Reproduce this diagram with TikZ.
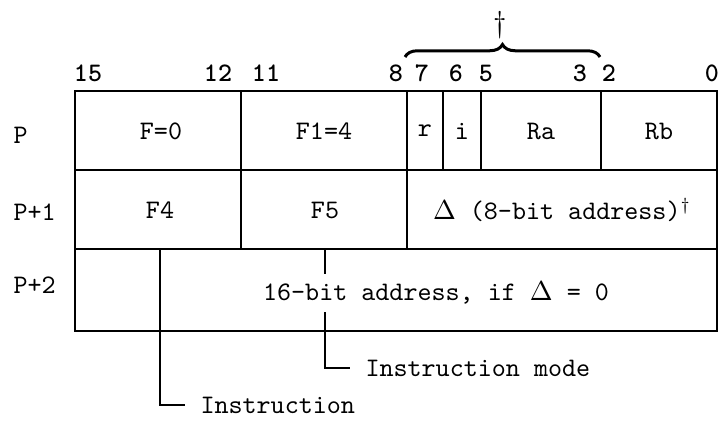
\documentclass[tikz,border=0pt]{standalone}
\usepackage{fontspec}
\usetikzlibrary{decorations.pathreplacing}
\tikzset{
  wordline/.style={line width=1.1pt},
  lbl/.style={font=\fontsize{10.7}{13}\ttfamily, inner sep=0pt},
  bitno/.style={lbl, font=\fontsize{10.7}{13}\ttfamily\bfseries},
  cellrow/.style={lbl, minimum height=31.6pt},
  leader/.style={line width=1.1pt, shorten >=6pt},
}
\begin{document}
\begin{tikzpicture}[x=0.4pt,y=-0.4pt]
\useasboundingbox (0,0) rectangle (718,420);
% bit numbers and brace
\foreach \x/\b in {88/15, 218/12, 266/11, 396/8, 422/7, 456/6, 486/5, 580/3, 609/2, 712/0}
  \node[bitno] (bit\b) at (\x,73) {\b};
\draw[line width=1.2pt, decorate, decoration={brace, amplitude=5pt}] (405,57) -- (600,57);
\node[lbl] (dag) at (500,25) {\large$\dagger$};
% row labels
\node[lbl, anchor=west] (rowP) at (13,135) {P};
\node[lbl, anchor=west] (rowP1) at (13,212) {P+1};
\node[lbl, anchor=west] (rowP2) at (13,285) {P+2};
% first word
\foreach \x/\t [count=\i] in {161/F=0, 324/F1=4, 425/r, 462/i, 541/Ra, 659/Rb}
  \node[lbl] (w\i) at (\x,131) {\t};
% second word
\node[cellrow] (f4) at (160,210) {F4};
\node[cellrow] (f5) at (325,210) {F5};
\node[lbl] (delta) at (562,210) {$\Delta$ (8-bit address)$^\dagger$};
% leaders, under the third word text
\node[lbl, anchor=west] (instr) at (200,405) {Instruction};
\node[lbl, anchor=west] (mode) at (365,368) {Instruction mode};
\draw[leader] (f4.south) |- (instr.west);
\draw[leader] (f5.south) |- (mode.west);
% grid
\draw[wordline] (75,91) rectangle (717,331);
\draw[wordline] (75,170) -- (717,170) (75,249) -- (717,249);
\foreach \x in {241,407} \draw[wordline] (\x,91) -- (\x,249);
\foreach \x in {443,481,601} \draw[wordline] (\x,91) -- (\x,170);
% third word
\node[lbl, fill=white, minimum height=15pt, inner xsep=2pt] (addr) at (436,293) {16-bit address, if $\Delta$ = 0};
\end{tikzpicture}
\end{document}
